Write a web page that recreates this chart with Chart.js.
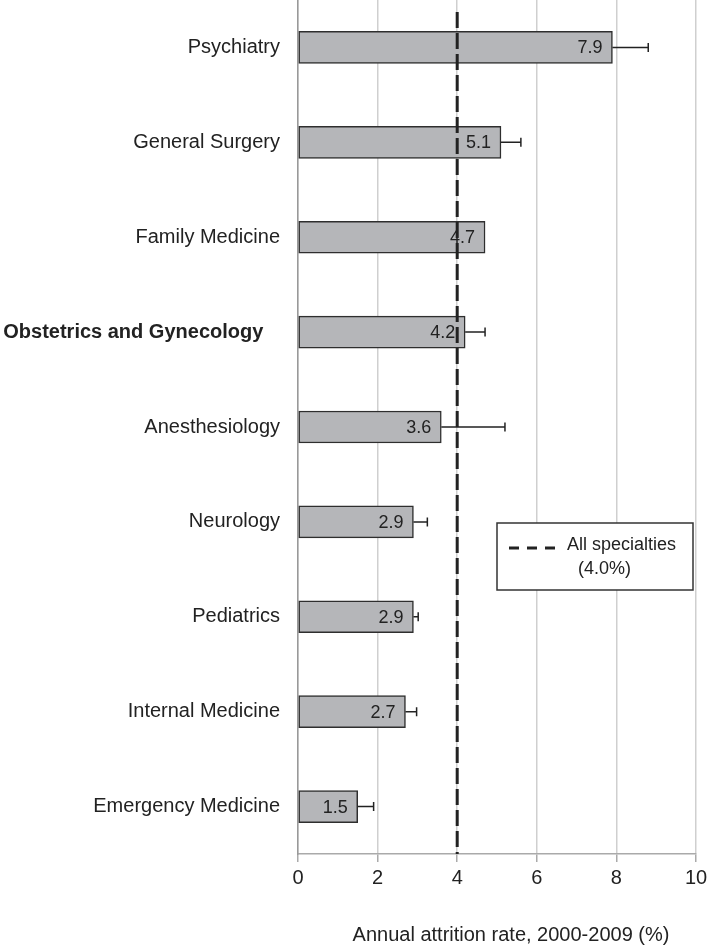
<!DOCTYPE html>
<html>
<head>
<meta charset="utf-8">
<title>Annual attrition rate by specialty</title>
<script src="https://cdn.jsdelivr.net/npm/chart.js@4.4.1/dist/chart.umd.min.js"></script>
<style>
  html, body { margin: 0; padding: 0; background: #fff; }
  canvas { display: block; }
</style>
</head>
<body>
<canvas id="chart" width="708" height="947"></canvas>
<script>
const specialties = [
  'Psychiatry',
  'General Surgery',
  'Family Medicine',
  'Obstetrics and Gynecology   ',
  'Anesthesiology',
  'Neurology',
  'Pediatrics',
  'Internal Medicine',
  'Emergency Medicine'
];
const attritionRates = [7.9, 5.1, 4.7, 4.2, 3.6, 2.9, 2.9, 2.7, 1.5];
const upperLimits = [8.8, 5.6, null, 4.7, 5.2, 3.25, 3.02, 2.98, 1.9];
const allSpecialtiesRate = 4.0;
const legendLines = ['All specialties', '(4.0%)'];
const axisTitle = 'Annual attrition rate, 2000-2009 (%)';
const boldIndex = 3;

const FONT = '"Liberation Sans", Arial, Helvetica, sans-serif';
const INK = '#222222';

// error bars (upper half only, lower half sits inside the bar)
const errorBars = {
  id: 'errorBars',
  afterDatasetsDraw(chart) {
    const ctx = chart.ctx;
    const x = chart.scales.x;
    const meta = chart.getDatasetMeta(0);
    ctx.save();
    ctx.strokeStyle = INK;
    ctx.lineWidth = 1.5;
    meta.data.forEach((bar, i) => {
      const hi = upperLimits[i];
      if (hi == null) return;
      const x1 = x.getPixelForValue(attritionRates[i]);
      const x2 = x.getPixelForValue(hi);
      ctx.beginPath();
      ctx.moveTo(x1, bar.y);
      ctx.lineTo(x2, bar.y);
      ctx.moveTo(x2, bar.y - 4.5);
      ctx.lineTo(x2, bar.y + 4.5);
      ctx.stroke();
    });
    ctx.restore();
  }
};

// value labels inside the right end of each bar
const valueLabels = {
  id: 'valueLabels',
  afterDatasetsDraw(chart) {
    const ctx = chart.ctx;
    const meta = chart.getDatasetMeta(0);
    ctx.save();
    ctx.font = '18px ' + FONT;
    ctx.fillStyle = INK;
    ctx.textAlign = 'right';
    ctx.textBaseline = 'middle';
    meta.data.forEach((bar, i) => {
      ctx.fillText(attritionRates[i].toFixed(1), bar.x - 10, bar.y + 1);
    });
    ctx.restore();
  }
};

// dashed reference line, legend box and axis title
const overlay = {
  id: 'overlay',
  afterDraw(chart) {
    const ctx = chart.ctx;
    const area = chart.chartArea;
    const xp = chart.scales.x.getPixelForValue(allSpecialtiesRate);
    ctx.save();
    ctx.strokeStyle = INK;
    ctx.lineWidth = 3;
    ctx.setLineDash([16, 5]);
    ctx.beginPath();
    ctx.moveTo(xp, area.top + 12);
    ctx.lineTo(xp, area.bottom);
    ctx.stroke();

    // legend box
    ctx.setLineDash([]);
    ctx.fillStyle = '#fff';
    ctx.fillRect(497, 523, 196, 67);
    ctx.strokeStyle = '#333';
    ctx.lineWidth = 1.5;
    ctx.strokeRect(497, 523, 196, 67);
    ctx.strokeStyle = INK;
    ctx.lineWidth = 3;
    ctx.setLineDash([10, 8]);
    ctx.beginPath();
    ctx.moveTo(509, 548);
    ctx.lineTo(556, 548);
    ctx.stroke();
    ctx.setLineDash([]);
    ctx.fillStyle = INK;
    ctx.font = '18px ' + FONT;
    ctx.textAlign = 'left';
    ctx.textBaseline = 'middle';
    ctx.fillText(legendLines[0], 567, 545);
    ctx.fillText(legendLines[1], 578, 569);

    // axis title
    ctx.font = '20px ' + FONT;
    ctx.textAlign = 'center';
    ctx.fillText(axisTitle, (area.left + area.right) / 2 + 14, 935);
    ctx.restore();
  }
};

new Chart(document.getElementById('chart'), {
  type: 'bar',
  data: {
    labels: specialties,
    datasets: [{
      data: attritionRates,
      backgroundColor: '#b5b6b9',
      borderColor: '#2e2e2e',
      borderWidth: 1.5,
      borderSkipped: false,
      barThickness: 32
    }]
  },
  options: {
    indexAxis: 'y',
    responsive: false,
    animation: false,
    layout: { autoPadding: false, padding: { left: 0, right: 12, top: 0, bottom: 0 } },
    scales: {
      x: {
        min: 0,
        max: 10,
        afterFit(scale) {
          scale.height = 93;
          scale.paddingLeft = 0;
          scale.paddingRight = 0;
        },
        ticks: {
          stepSize: 2,
          color: INK,
          padding: 4,
          font: { family: FONT, size: 20 }
        },
        grid: {
          color: '#cfcfcf',
          lineWidth: 1.5,
          tickLength: 8,
          tickColor: '#aaaaaa'
        },
        border: { display: true, color: '#aaaaaa', width: 1.5 }
      },
      y: {
        afterFit(scale) {
          scale.width = 298;
          scale.paddingTop = 0;
          scale.paddingBottom = 0;
        },
        grid: { display: false, drawTicks: false },
        border: { display: true, color: '#999999', width: 1.5 },
        ticks: {
          color: INK,
          padding: 18,
          font: ctx => ({
            family: FONT,
            size: 20,
            weight: ctx.index === boldIndex ? 'bold' : 'normal'
          })
        }
      }
    },
    plugins: {
      legend: { display: false },
      tooltip: { enabled: false }
    }
  },
  plugins: [errorBars, valueLabels, overlay]
});
</script>
</body>
</html>
